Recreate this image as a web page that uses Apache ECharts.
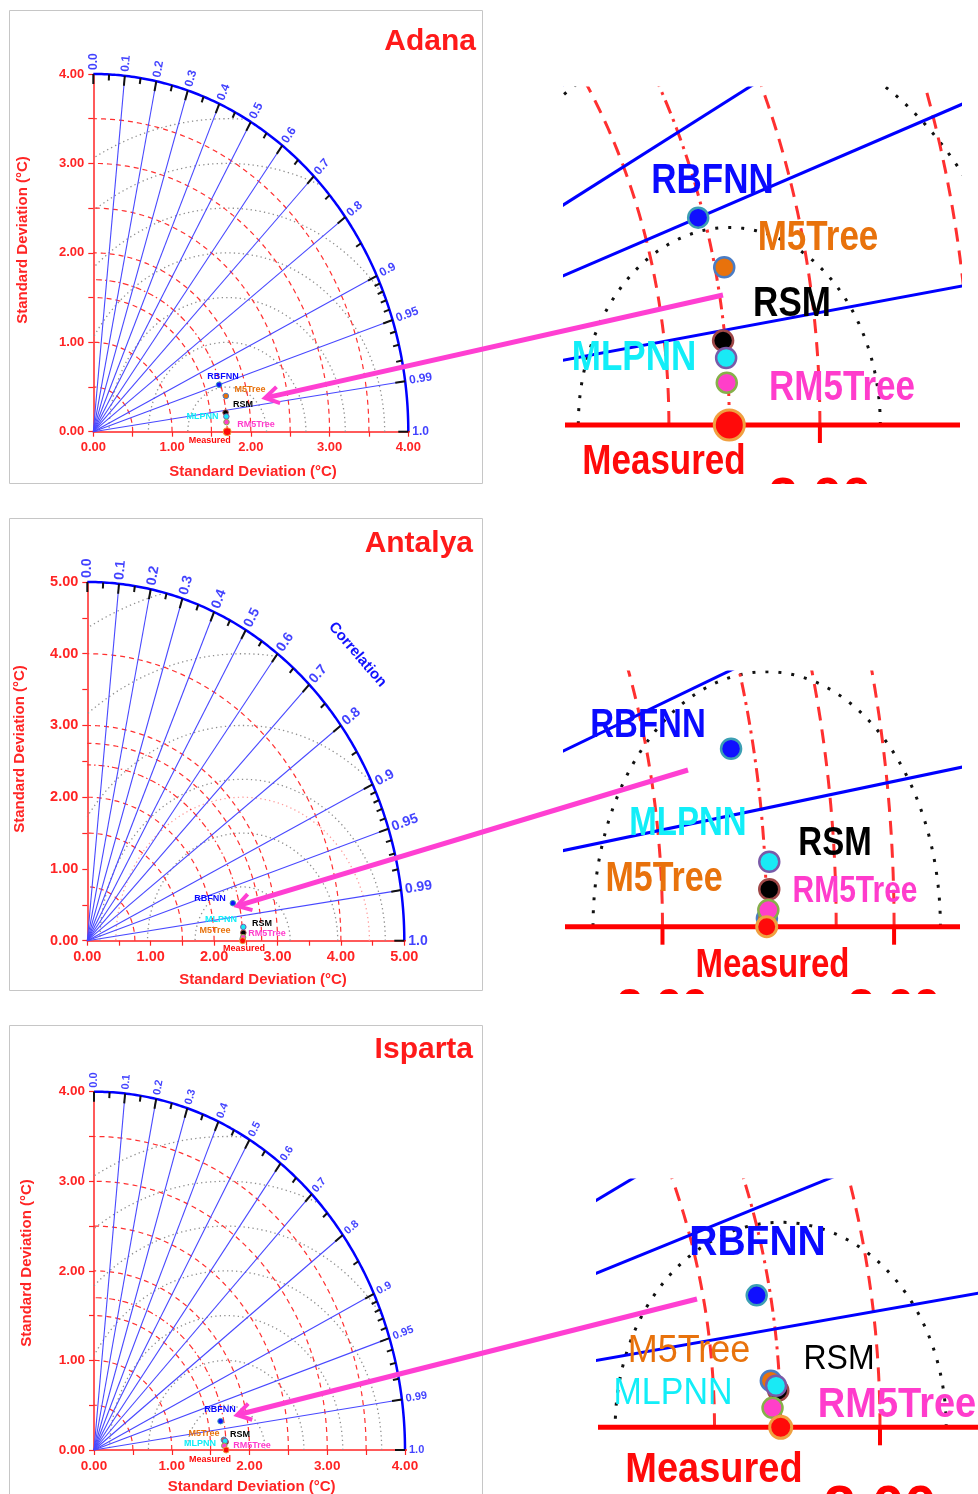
<!DOCTYPE html>
<html>
<head>
<meta charset="utf-8">
<title>Taylor diagrams</title>
<script src="https://cdn.jsdelivr.net/npm/echarts@6.0.0/dist/echarts.min.js"></script>
<style>
  html, body { margin: 0; padding: 0; background: #fff; }
  #chart { width: 978px; height: 1494px; }
</style>
</head>
<body>
<div id="chart"></div>
<script>
// stations / models
const stations = ['Adana', 'Antalya', 'Isparta'];
const models = ['RBFNN', 'M5Tree', 'RSM', 'MLPNN', 'RM5Tree'];
// measured standard deviation (°C)
const measuredStd = [1.70, 2.45, 1.70];
// model std (°C) and correlation, order = models
const adanaStd = [1.681, 1.730, 1.693, 1.698, 1.695];
const adanaCorr = [0.950, 0.973, 0.992, 0.995, 0.998];
const antalyaStd = [2.355, 2.451, 2.4635, 2.4685, 2.4575];
const antalyaCorr = [0.975, 0.99995, 0.999, 0.997, 0.9998];
const ispartaStd = [1.659, 1.674, 1.695, 1.689, 1.676];
const ispartaCorr = [0.981, 0.9977, 0.9986, 0.9982, 0.9996];
// std axis ranges and reference arcs
const stdMax = [4, 5, 4];
const stdArcs = [[0.5, 1, 1.5, 2, 2.5, 3, 3.5], [0.75, 1.5, 2, 2.75, 3, 4], [0.5, 1, 1.5, 2, 2.5, 3, 3.5]];
const rmsArcs = [[0.5, 1, 1.5, 2, 2.5, 3, 3.5], [0.75, 1.5, 2.25, 3, 4, 5], [0.5, 1, 1.5, 2, 2.5, 3, 3.5]];
const rmsArcsPink = [[], [2], []];
// correlation axis
const corrTicks = [0, 0.1, 0.2, 0.3, 0.4, 0.5, 0.6, 0.7, 0.8, 0.9, 0.95, 0.99, 1.0];
const corrTickLabels = ['0.0', '0.1', '0.2', '0.3', '0.4', '0.5', '0.6', '0.7', '0.8', '0.9', '0.95', '0.99', '1.0'];
const corrMinor = [0.05, 0.15, 0.25, 0.35, 0.45, 0.55, 0.65, 0.75, 0.85, 0.91, 0.92, 0.93, 0.94, 0.96, 0.97, 0.98];
const corrLines = [0.1, 0.2, 0.3, 0.4, 0.5, 0.6, 0.7, 0.8, 0.9, 0.95, 0.99];
// zoomed views: x ticks shown
const insetTicks = [[2], [2, 3], [2]];

const stdData = [adanaStd, antalyaStd, ispartaStd];
const corrData = [adanaCorr, antalyaCorr, ispartaCorr];

const FONT = '"Liberation Sans", Arial, sans-serif';
const RED = '#ff2424';
const BLUE = '#1212ff';
const modelColors = ['#1010ff', '#e8720c', '#000000', '#19eaf5', '#ff3fc9'];
const modelBorders = ['#3c9fb4', '#4a7cc4', '#a04848', '#7a5aa8', '#86b04a'];
const labelColors = ['#0a0aff', '#e8720c', '#000000', '#12eef8', '#ff3ccc', '#ff0a0a'];
const drawOrder = [0, 2, 1, 3, 4]; // measured goes last (on top)

// layout (pixels)
const mainBox = [
  { left: 93.3, top: 74, width: 315, height: 357.7, axisFont: 13, corrFont: 12, measSize: 8 },
  { left: 87.3, top: 582, width: 317, height: 358.7, axisFont: 14.5, corrFont: 14, measSize: 6 },
  { left: 94, top: 1091.7, width: 311, height: 358.3, axisFont: 13.5, corrFont: 11, measSize: 6 }
];
const insetBox = [
  { left: 565, top: 88, width: 395, height: 395, refX: 729.3, refY: 425, sx: 302, sy: 395, measSize: 30 },
  { left: 565, top: 672, width: 395, height: 318, refX: 766.7, refY: 926.7, sx: 231.6, sy: 340, measSize: 20 },
  { left: 598, top: 1180, width: 380, height: 314, refX: 780.7, refY: 1427.3, sx: 331, sy: 410, measSize: 22 }
];

function toXY(s, c) { return [s * c, s * Math.sqrt(Math.max(0, 1 - c * c))]; }
function arc(cx, r, a0, a1, n) {
  const pts = [];
  for (let i = 0; i <= n; i++) {
    const a = a0 + (a1 - a0) * i / n;
    pts.push([cx + r * Math.cos(a), r * Math.sin(a)]);
  }
  return pts;
}
function clamp(v) { return Math.max(-1, Math.min(1, v)); }
// centred RMS arc, cut by the outer std arc and the y axis
function rmsArc(c, r, R) {
  const lo = Math.acos(clamp((R * R - c * c - r * r) / (2 * c * r)));
  const hi = Math.acos(clamp(-c / r));
  if (hi <= lo) return null;
  return arc(c, r, lo, hi, 140);
}

const grids = [], xAxes = [], yAxes = [], series = [];

function buildDiagram(p, gi, inset) {
  const R = stdMax[p], ref = measuredStd[p];
  const add = (data, color, width, type, z, clip) => series.push({
    type: 'line', xAxisIndex: gi, yAxisIndex: gi, data: data, symbol: 'none', showSymbol: false,
    silent: true, animation: false, clip: clip, z: z, lineStyle: { color: color, width: width, type: type }
  });
  rmsArcs[p].forEach(r => {
    const pts = rmsArc(ref, r, R);
    if (pts) add(pts, inset ? '#111' : '#8e8e8e', inset ? 3 : 1.3, inset ? [3, 10] : [1.3, 3.2], 1, inset);
  });
  rmsArcsPink[p].forEach(r => {
    const pts = rmsArc(ref, r, R);
    if (pts) add(pts, '#ff9c9c', inset ? 3 : 1.3, inset ? [3, 10] : [1.3, 3.2], 1, inset);
  });
  stdArcs[p].forEach(r => add(arc(0, r, 0, Math.PI / 2, 120), '#ff3030', inset ? 3 : 1.2, inset ? [14, 9] : [5, 4], 2, inset));
  add(arc(0, ref, 0, Math.PI / 2, 120), '#ff3030', inset ? 3 : 1.2, inset ? [14, 6, 3, 6] : [6, 3, 1.5, 3], 2, inset);
  corrLines.forEach(c => add([[0, 0], toXY(R, c)], inset ? '#0000ff' : '#4848ff', inset ? 3 : 1.1, 'solid', 3, inset));

  const std = stdData[p], corr = corrData[p];
  const ms = inset ? 20 : 5.5, bw = inset ? 2.5 : 1;
  const items = drawOrder.map(i => ({
    value: toXY(std[i], corr[i]), symbolSize: ms,
    itemStyle: { color: modelColors[i], borderColor: modelBorders[i], borderWidth: bw, opacity: 1 }
  }));
  items.push({
    value: [ref, 0], symbolSize: inset ? insetBox[p].measSize : mainBox[p].measSize,
    itemStyle: { color: '#ff0a0a', borderColor: '#f0a040', borderWidth: inset ? 3 : 1, opacity: 1 }
  });

  if (inset) {
    const b = insetBox[p];
    const xmin = ref - (b.refX - b.left) / b.sx, xmax = xmin + b.width / b.sx;
    const ymax = (b.refY - b.top) / b.sy, ymin = ymax - b.height / b.sy;
    grids.push({ left: b.left, top: b.top, width: b.width, height: b.height, outerBoundsMode: 'none' });
    xAxes.push({ gridIndex: gi, type: 'value', min: xmin, max: xmax, show: false });
    yAxes.push({ gridIndex: gi, type: 'value', min: ymin, max: ymax, show: false });
    add([[xmin, 0], [xmax, 0]], '#ff0000', 5, 'solid', 4, true);
    insetTicks[p].forEach(v => add([[v, 0], [v, -18 / b.sy]], '#ff0000', 4, 'solid', 4, true));
  } else {
    const b = mainBox[p];
    const fmt = v => (Math.abs(v - Math.round(v)) < 1e-9 ? v.toFixed(2) : '');
    const axisCommon = {
      gridIndex: gi, type: 'value', min: 0, max: R, interval: 0.5,
      axisLine: { show: true, onZero: false, lineStyle: { color: RED, width: 1.5 } },
      axisTick: { show: true, length: 5, lineStyle: { color: RED, width: 1.2 } },
      axisLabel: { color: RED, fontWeight: 'bold', fontSize: b.axisFont, fontFamily: FONT, margin: 9, formatter: fmt },
      splitLine: { show: false }
    };
    grids.push({ left: b.left, top: b.top, width: b.width, height: b.height, outerBoundsMode: 'none' });
    xAxes.push(Object.assign({ position: 'bottom' }, axisCommon));
    yAxes.push(Object.assign({ position: 'left' }, axisCommon));
    // outer correlation arc and x axis run-out
    add(arc(0, R, 0, Math.PI / 2, 180), '#0000ff', 2.5, 'solid', 4, false);
    add([[R, 0], [R * 1.065, 0]], RED, 1.5, 'solid', 4, false);

    const sx = b.width / R, sy = b.height / R;
    // black ticks on the correlation arc
    const tickData = corrTicks.map(c => toXY(R, c).concat([10]))
      .concat(corrMinor.map(c => toXY(R, c).concat([6])));
    series.push({
      type: 'custom', xAxisIndex: gi, yAxisIndex: gi, silent: true, animation: false, clip: false, z: 6,
      data: tickData,
      renderItem: (params, api) => {
        const o = api.coord([0, 0]);
        const q = api.coord([api.value(0), api.value(1)]);
        const dx = q[0] - o[0], dy = q[1] - o[1], d = Math.hypot(dx, dy), L = api.value(2);
        return {
          type: 'line',
          shape: { x1: q[0], y1: q[1], x2: q[0] - dx / d * L, y2: q[1] - dy / d * L },
          style: { stroke: '#111', lineWidth: 2 }
        };
      }
    });
    // correlation labels, rotated along the radial lines
    series.push({
      type: 'scatter', xAxisIndex: gi, yAxisIndex: gi, silent: true, animation: false, clip: false, z: 7,
      symbolSize: 1, itemStyle: { color: 'rgba(0,0,0,0)' },
      data: corrTicks.map((c, i) => {
        const t = Math.acos(c);
        const pr = Math.hypot(R * Math.cos(t) * sx, R * Math.sin(t) * sy);
        const rr = R * (1 + 4 / pr);
        const deg = Math.atan2(Math.sin(t) * sy, Math.cos(t) * sx) * 180 / Math.PI;
        return { value: toXY(rr, c), name: corrTickLabels[i], label: { rotate: deg } };
      }),
      label: {
        show: true, position: 'inside', align: 'left', verticalAlign: 'middle', formatter: '{b}',
        color: BLUE, fontSize: b.corrFont, fontWeight: 'bold', fontFamily: FONT
      }
    });
  }
  series.push({ type: 'scatter', xAxisIndex: gi, yAxisIndex: gi, data: items, silent: true, z: 8, clip: false, animation: false });
}

for (let p = 0; p < 3; p++) {
  buildDiagram(p, p * 2, false);
  buildDiagram(p, p * 2 + 1, true);
}

// text layout
const titlePos = [[476, 42], [473, 544], [473, 1050]];
const yNamePos = [[23, 240], [20, 749], [26.5, 1263]];
const xNamePos = [[253, 471.5], [263, 979.5], [251.7, 1487]];
// small point labels in the diagrams: RBFNN, M5Tree, RSM, MLPNN, RM5Tree, Measured
const mainLabelPos = [
  [[223, 377], [250, 390], [243, 405], [202.5, 416.5], [256, 424.5], [209.7, 440.5]],
  [[210, 899], [215, 931], [262, 923.5], [221, 919.5], [267, 934], [244, 949]],
  [[220, 1409.7], [204, 1433.7], [240, 1435], [200, 1443.3], [252, 1445.3], [210, 1460]]
];
// big labels in the zoomed views: [x, y, fontSize, weight]
const insetLabel = [
  [[712.5, 181, 35, 'bold'], [818, 238, 35, 'bold'], [792, 304, 35, 'bold'], [634, 358, 35, 'bold'], [842, 388, 35, 'bold'], [664, 462, 35, 'bold']],
  [[648, 726, 33, 'bold'], [664, 879, 34, 'bold'], [835, 844, 33, 'bold'], [688, 824, 33, 'bold'], [855, 892, 30, 'bold'], [772.5, 966, 33, 'bold']],
  [[757.5, 1243, 39, 'bold'], [689, 1351.5, 36, 'normal'], [839, 1359.5, 32, 'normal'], [673, 1393.5, 34, 'normal'], [897, 1405, 38, 'bold'], [714, 1470, 38, 'bold']]
];
const insetScaleY = [1.2, 1.25, 1.1];
const insetNumFont = [53, 47, 58];
const insetNumTop = [473, 984, 1480];
const arrows = [
  [[723, 295], [265, 398]],
  [[688, 770], [237, 906]],
  [[697, 1299], [237, 1415]]
];

function txt(text, x, y, font, fill, opts) {
  return Object.assign({
    type: 'text', x: x, y: y, silent: true, z: 50,
    style: { text: text, font: font, fill: fill, align: 'center', verticalAlign: 'middle', textAlign: 'center', textVerticalAlign: 'middle' }
  }, opts || {});
}

const chart = echarts.init(document.getElementById('chart'));
chart.setOption({
  animation: false,
  backgroundColor: '#ffffff',
  grid: grids,
  xAxis: xAxes,
  yAxis: yAxes,
  series: series
});

const labels = models.concat(['Measured']);
const g = [];
[[9.5, 10.5, 473, 473], [9.5, 518.5, 473, 472], [9.5, 1025.5, 473, 480]].forEach(r => g.push({
  type: 'rect', silent: true, z: 0, shape: { x: r[0], y: r[1], width: r[2], height: r[3] },
  style: { fill: 'none', stroke: '#c6c6c6', lineWidth: 1 }
}));
for (let p = 0; p < 3; p++) {
  g.push(txt(stations[p], titlePos[p][0], titlePos[p][1], 'bold 30px ' + FONT, '#ff1a1a',
    { style: { text: stations[p], font: 'bold 30px ' + FONT, fill: '#ff1a1a', align: 'right', verticalAlign: 'middle', textAlign: 'right', textVerticalAlign: 'middle' } }));
  g.push(txt('Standard Deviation (°C)', yNamePos[p][0], yNamePos[p][1], 'bold 15px ' + FONT, RED, { rotation: Math.PI / 2 }));
  g.push(txt('Standard Deviation (°C)', xNamePos[p][0], xNamePos[p][1], 'bold 15px ' + FONT, RED));
  labels.forEach((name, i) => {
    const lp = mainLabelPos[p][i];
    g.push(txt(name, lp[0], lp[1], 'bold 9px ' + FONT, labelColors[i]));
    const il = insetLabel[p][i];
    g.push(txt(name, il[0], il[1], il[3] + ' ' + il[2] + 'px ' + FONT, labelColors[i], { scaleY: insetScaleY[p] }));
  });
  // cut-off tick numbers under the zoomed views
  insetTicks[p].forEach(v => {
    const px = chart.convertToPixel({ xAxisIndex: p * 2 + 1 }, v);
    const f = insetNumFont[p];
    g.push(txt(v.toFixed(2), px, insetNumTop[p] + 0.52 * f, 'bold ' + f + 'px ' + FONT, '#ff0000', { z: 40 }));
  });
  // arrow
  const a = arrows[p], s = a[0], t = a[1];
  const ang = Math.atan2(s[1] - t[1], s[0] - t[0]);
  const head = [-0.55, 0.55].map(d => [t[0] + 16 * Math.cos(ang + d), t[1] + 16 * Math.sin(ang + d)]);
  g.push({ type: 'polyline', silent: true, z: 100, shape: { points: [s, [t[0] + 3 * Math.cos(ang), t[1] + 3 * Math.sin(ang)]] }, style: { stroke: '#ff3fd2', lineWidth: 5 } });
  g.push({ type: 'polyline', silent: true, z: 100, shape: { points: [head[0], t, head[1]] }, style: { stroke: '#ff3fd2', lineWidth: 4, fill: 'none' } });
}
// white masks that cut the big tick numbers at the view edges
g.push({ type: 'rect', silent: true, z: 45, shape: { x: 490, y: 484, width: 488, height: 180 }, style: { fill: '#fff' } });
g.push({ type: 'rect', silent: true, z: 45, shape: { x: 490, y: 994, width: 488, height: 180 }, style: { fill: '#fff' } });
g.push(txt('Correlation', 357.5, 654.7, 'bold 15px ' + FONT, BLUE, { rotation: -0.86 }));

chart.setOption({ graphic: { elements: g } });
</script>
</body>
</html>
